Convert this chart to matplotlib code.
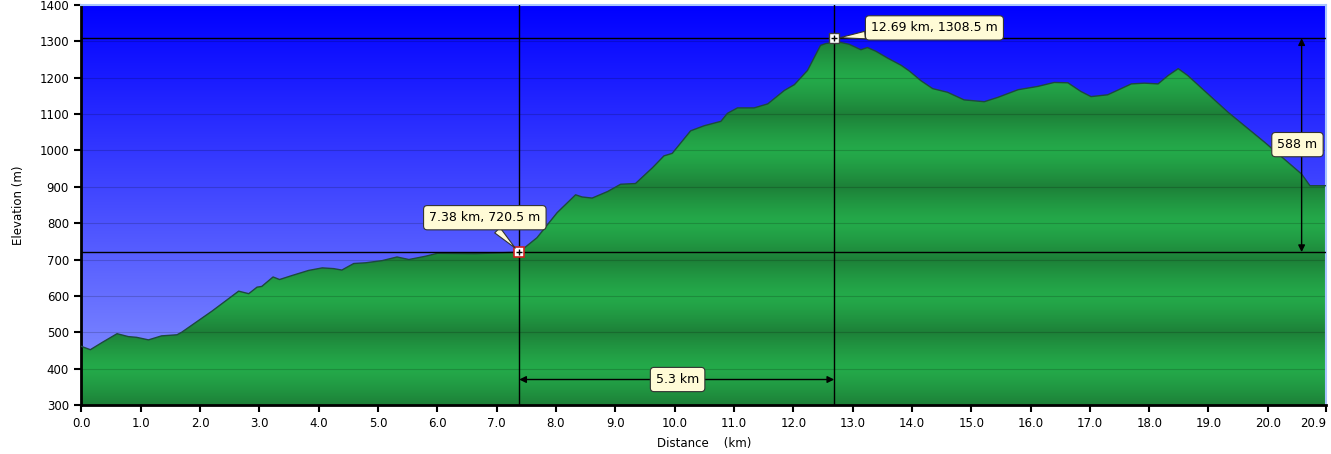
import numpy as np
import matplotlib
matplotlib.use('Agg')
import matplotlib.pyplot as plt
from matplotlib.patches import Polygon

# perfil de elevacao
dist = [0.0, 0.15, 0.35, 0.6, 0.79, 0.93, 1.13, 1.35, 1.61, 1.69, 2.2, 2.65, 2.82, 2.96,
        3.04, 3.23, 3.34, 3.55, 3.83, 4.06, 4.25, 4.39, 4.59, 4.79, 5.07, 5.32, 5.52, 5.80,
        6.0, 6.64, 6.98, 7.38, 7.68, 8.02, 8.33, 8.44, 8.61, 8.87, 9.09, 9.34, 9.63, 9.82,
        9.96, 10.27, 10.5, 10.78, 10.89, 11.06, 11.34, 11.57, 11.85, 12.02, 12.24, 12.46,
        12.55, 12.63, 12.80, 12.94, 13.14, 13.25, 13.39, 13.59, 13.82, 13.96, 14.15, 14.35,
        14.60, 14.88, 15.22, 15.45, 15.79, 16.12, 16.40, 16.63, 16.85, 17.02, 17.30, 17.70,
        17.92, 18.15, 18.32, 18.49, 18.65, 19.33, 19.95, 20.57, 20.71, 20.98]
elev = [461, 452, 472, 496, 488, 486, 479, 490, 493, 500, 558, 613, 606, 624,
        626, 652, 645, 656, 670, 677, 675, 671, 689, 691, 697, 707, 700, 709,
        717, 716, 718, 720.5, 760, 829, 878, 872, 869, 887, 907, 909, 953, 985,
        992, 1054, 1068, 1080, 1102, 1117, 1117, 1128, 1165, 1181, 1220, 1289,
        1294, 1296, 1297, 1292, 1277, 1283, 1273, 1254, 1234, 1218, 1192, 1170,
        1160, 1139, 1134, 1146, 1167, 1176, 1187, 1186, 1162, 1148, 1153, 1183,
        1185, 1183, 1206, 1225, 1206, 1105, 1022, 935, 903, 903]

# pontos marcados
p1 = (7.38, 720.5)
p2 = (12.69, 1308.5)
dx_label = '5.3 km'
dy_label = '588 m'

xticks = [0, 1, 2, 3, 4, 5, 6, 7, 8, 9, 10, 11, 12, 13, 14, 15, 16, 17, 18, 19, 20, 20.98]
xticklabels = ['0.0', '1.0', '2.0', '3.0', '4.0', '5.0', '6.0', '7.0', '8.0', '9.0', '10.0',
               '11.0', '12.0', '13.0', '14.0', '15.0', '16.0', '17.0', '18.0', '19.0',
               '20.0', '20.9']
yticks = list(range(300, 1401, 100))

xmax = 20.98
ymin, ymax = 300, 1400

fig = plt.figure(figsize=(13.31, 4.54), dpi=100)
ax = fig.add_axes([0.0612, 0.108, 0.935, 0.881])
ax.set_xlim(0, xmax)
ax.set_ylim(ymin, ymax)

# fundo azul em degrade
yy = np.linspace(ymin, ymax, 400)
t = (yy - ymin) / (ymax - ymin)
top = np.array([0, 0, 255]) / 255
bot = np.array([140, 152, 255]) / 255
bg = bot[None, :] * (1 - t[:, None]) + top[None, :] * t[:, None]
ax.imshow(bg[:, None, :], extent=[0, xmax, ymin, ymax], origin='lower',
          aspect='auto', zorder=0, interpolation='bilinear')

# verde com faixas
w = np.abs(((yy - 300) % 200) - 100) / 100  # 1 nas linhas escuras
light = np.array([36, 170, 74]) / 255
dark = np.array([29, 128, 56]) / 255
gr = light[None, :] * (1 - w[:, None] ** 1.3) + dark[None, :] * w[:, None] ** 1.3
im = ax.imshow(gr[:, None, :], extent=[0, xmax, ymin, ymax], origin='lower',
               aspect='auto', zorder=1, interpolation='bilinear')
verts = [(dist[0], ymin)] + list(zip(dist, elev)) + [(dist[-1], ymin)]
poly = Polygon(verts, closed=True, facecolor='none', edgecolor='none')
ax.add_patch(poly)
im.set_clip_path(poly)
ax.plot(dist, elev, color='#1d4a3c', lw=1.0, zorder=3)

# grade
for y in yticks[1:-1]:
    ax.axhline(y, color='black', alpha=0.17, lw=0.8, zorder=2)

# linhas de medicao
for x, y in (p1, p2):
    ax.axvline(x, color='black', lw=1, zorder=4)
    ax.axhline(y, color='black', lw=1, zorder=4)
ax.plot(*p1, marker='s', ms=7, mfc='white', mec='#d02020', mew=1.2, zorder=6)
ax.plot(*p2, marker='s', ms=7, mfc='white', mec='#404040', mew=1.0, zorder=6)
for p in (p1, p2):
    ax.plot(*p, marker='+', ms=5, color='black', mew=1, zorder=7)

box = dict(boxstyle='round,pad=0.45,rounding_size=0.3', fc='#fffbd6', ec='#333333', lw=0.8)
ax.annotate('7.38 km, 720.5 m', xy=p1, xytext=(6.80, 815), ha='center', va='center',
            fontsize=9, bbox=box, zorder=8,
            arrowprops=dict(arrowstyle='wedge,tail_width=0.6', fc='#fffbd6', ec='#333333',
                            lw=0.8, shrinkA=0, shrinkB=4))
ax.annotate('12.69 km, 1308.5 m', xy=p2, xytext=(14.38, 1337), ha='center', va='center',
            fontsize=9, bbox=box, zorder=8,
            arrowprops=dict(arrowstyle='wedge,tail_width=0.6', fc='#fffbd6', ec='#333333',
                            lw=0.8, shrinkA=0, shrinkB=4))

# cotas
ax.annotate('', xy=(p2[0], 370), xytext=(p1[0], 370),
            arrowprops=dict(arrowstyle='<|-|>', color='black', lw=1, mutation_scale=10,
                            shrinkA=0, shrinkB=0), zorder=5)
ax.text(10.05, 370, dx_label, ha='center', va='center', fontsize=9, bbox=box, zorder=8)
ax.annotate('', xy=(20.57, p2[1]), xytext=(20.57, p1[1]),
            arrowprops=dict(arrowstyle='<|-|>', color='black', lw=1, mutation_scale=10,
                            shrinkA=0, shrinkB=0), zorder=5)
ax.text(20.50, 1016, dy_label, ha='center', va='center', fontsize=9, bbox=box, zorder=8)

# eixos
ax.set_xticks(xticks)
ax.set_xticklabels(xticklabels, fontsize=8.5)
ax.get_xticklabels()[-1].set_horizontalalignment('right')
ax.set_yticks(yticks)
ax.set_yticklabels([str(v) for v in yticks], fontsize=8.5)
ax.tick_params(axis='both', length=5, width=1.5, color='black', pad=4)
for s in ('left', 'bottom'):
    ax.spines[s].set_linewidth(2)
    ax.spines[s].set_color('black')
for s in ('top', 'right'):
    ax.spines[s].set_color('#a8c4ff')
    ax.spines[s].set_linewidth(1.5)
ax.set_xlabel('Distance    (km)', fontsize=8.5, labelpad=5)
ax.set_ylabel('Elevation (m)', fontsize=8.5, labelpad=10)

fig.savefig('out.png', dpi=100)
